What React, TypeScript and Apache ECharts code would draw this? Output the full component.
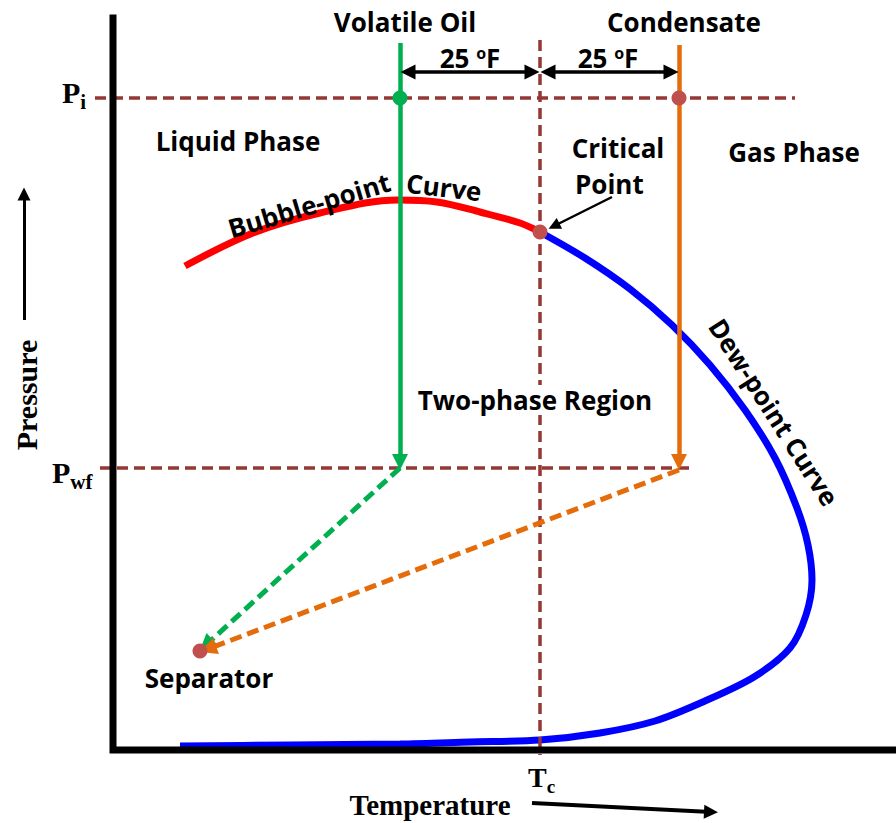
import React, { useEffect, useRef } from "react";
import * as echarts from "echarts";

// Abstract units: temperature (x) and pressure (y), origin at the axes corner.
const T_MIN = -113, T_MAX = 783;
const P_MIN = -73, P_MAX = 750;

// Phase envelope
const bubbleT = [72, 140, 207, 285, 324, 367, 407, 427];
const bubbleP = [484, 517, 537, 550, 548, 538, 527, 518];
const dewT = [427, 472, 517, 559, 597, 632, 662, 684, 695, 699, 693, 677, 641, 592, 542, 487, 427, 357, 287, 177, 67];
const dewP = [518, 492, 461, 425, 385, 340, 292, 242, 205, 170, 135, 102, 73, 49, 29, 17, 10, 8, 6, 5, 4];

// Key states
const Tc = 427;
const Pc = 518;
const T_volatile = 287;
const T_condensate = 566;
const P_i = 652;
const P_wf = 282;
const sepT = 87;
const sepP = 99;

const zip = (a: number[], b: number[]) => a.map((v, i) => [v, b[i]]);

const SANS = '"Open Sans", "Noto Sans", sans-serif';
const SERIF = '"Liberation Serif", "DejaVu Serif", serif';
const BROWN = "#953735";
const GREEN = "#00b050";
const ORANGE = "#e46c0a";
const DOT = "#c0504d";

export default function App() {
  const ref = useRef<HTMLDivElement>(null);
  useEffect(() => {
    document.body.style.margin = "0";
    const chart = echarts.init(ref.current!, null, { renderer: "svg" });
    const lineBase = { type: "line", symbol: "none", silent: true, clip: false } as any;
    const arrow = (coords: number[][], color: string, width: number, dashed = false, both = false, size = 14) => ({
      type: "lines",
      coordinateSystem: "cartesian2d",
      silent: true,
      symbol: both ? ["triangle", "triangle"] : ["none", "triangle"],
      symbolSize: size,
      lineStyle: { color, width, opacity: 1, type: dashed ? [12, 6] : "solid" },
      itemStyle: { color },
      data: [{ coords }],
    });
    const t = (text: string, x: number, y: number, extra: any = {}) => ({
      type: "text",
      x,
      y,
      rotation: extra.rotation || 0,
      z: 100,
      style: {
        text,
        fontFamily: SANS,
        fontWeight: "bold",
        fontSize: 26,
        fill: "#000",
        align: "center",
        verticalAlign: "middle",
        ...(extra.style || {}),
      },
    });
    const sup = { o: { fontSize: 16, fontFamily: SANS, fontWeight: "bold", verticalAlign: "top" } };
    const serifRich = (big: number, small: number) => ({
      a: { fontFamily: SERIF, fontWeight: "bold", fontSize: big, lineHeight: big + 10 },
      b: { fontFamily: SERIF, fontWeight: "bold", fontSize: small, verticalAlign: "bottom" },
    });
    const dash = { color: BROWN, width: 3.5, type: [11, 6] };
    const option: any = {
      animation: false,
      grid: { left: 0, right: 0, top: 0, bottom: 0 },
      xAxis: { type: "value", min: T_MIN, max: T_MAX, show: false },
      yAxis: { type: "value", min: P_MIN, max: P_MAX, show: false },
      series: [
        // axes
        { ...lineBase, data: [[0, 732], [0, 0], [783, 0]], lineStyle: { color: "#000", width: 7, join: "miter", cap: "square" }, z: 5 },
        // bubble-point curve
        { ...lineBase, data: zip(bubbleT, bubbleP), smooth: 0.35, lineStyle: { color: "#ff0000", width: 7 }, z: 3 },
        // dew-point curve
        { ...lineBase, data: zip(dewT, dewP), smooth: 0.3, lineStyle: { color: "#0000ff", width: 7 }, z: 3 },
        // reference dashed lines
        { ...lineBase, data: [[-18, P_i], [682, P_i]], lineStyle: dash, z: 4 },
        { ...lineBase, data: [[-13, P_wf], [582, P_wf]], lineStyle: dash, z: 4 },
        { ...lineBase, data: [[Tc, 710], [Tc, -5]], lineStyle: dash, z: 4 },
        // depletion paths
        { ...arrow([[T_volatile, 707], [T_volatile, P_wf + 6]], GREEN, 4.5, false, false, 16), z: 6 },
        { ...arrow([[T_condensate, 705], [T_condensate, P_wf + 6]], ORANGE, 4.5, false, false, 16), z: 6 },
        { ...arrow([[T_volatile, P_wf], [sepT + 6, sepP + 6]], GREEN, 5, true, false, 17), z: 6 },
        { ...arrow([[T_condensate, P_wf - 2], [sepT + 8, sepP + 2]], ORANGE, 5, true, false, 17), z: 6 },
        // 25 F spans
        { ...arrow([[T_volatile + 8, 678], [Tc - 8, 678]], "#000", 3.5, false, true, 15), z: 6 },
        { ...arrow([[Tc + 8, 678], [T_condensate - 8, 678]], "#000", 3.5, false, true, 15), z: 6 },
        // critical point pointer
        { ...arrow([[499, 553], [441, 524]], "#000", 2.5, false, false, 12), z: 6 },
        // axis title arrows
        { ...arrow([[-89, 430], [-89, 556]], "#000", 3, false, false, 13), z: 6 },
        { ...arrow([[419, -53], [598, -62]], "#000", 4, false, false, 14), z: 6 },
        // dots
        {
          type: "scatter", silent: true, symbolSize: 15, z: 8,
          itemStyle: { opacity: 1 },
          data: [
            { value: [T_volatile, P_i], itemStyle: { color: GREEN, opacity: 1 } },
            { value: [T_condensate, P_i], itemStyle: { color: DOT, opacity: 1 } },
            { value: [Tc, Pc], itemStyle: { color: DOT, opacity: 1 } },
            { value: [sepT, sepP], itemStyle: { color: DOT, opacity: 1 } },
          ],
        },
      ],
      graphic: [
        t("Volatile Oil", 405, 22),
        t("Condensate", 684, 22),
        t("25 {o|o}F", 470, 58, { style: { rich: sup } }),
        t("25 {o|o}F", 608, 58, { style: { rich: sup } }),
        t("Liquid Phase", 238, 141),
        t("Critical", 618, 148),
        t("Point", 575, 184, { style: { align: "left" } }),
        t("Gas Phase", 794, 152),
        t("Bubble-point", 309, 205, { rotation: 0.29 }),
        t("Curve", 444, 187, { rotation: -0.12 }),
        t("Two-phase Region", 535, 400, { style: { backgroundColor: "#fff", padding: [2, 2] } }),
        t("Dew-point Curve", 774, 412, { rotation: -1.0 }),
        t("Separator", 209, 678),
        t("{a|P}{b|i}", 62, 92, { style: { align: "left", fontFamily: SERIF, rich: serifRich(30, 21) } }),
        t("{a|P}{b|wf}", 52, 472, { style: { align: "left", fontFamily: SERIF, rich: serifRich(30, 21) } }),
        t("{a|T}{b|c}", 528, 777, { style: { align: "left", fontFamily: SERIF, rich: serifRich(28, 19) } }),
        t("Pressure", 26, 395, { rotation: Math.PI / 2, style: { fontFamily: SERIF, fontSize: 30 } }),
        t("Temperature", 430, 805, { style: { fontFamily: SERIF, fontSize: 29 } }),
      ],
    };
    chart.setOption(option);
    return () => chart.dispose();
  }, []);
  return <div ref={ref} style={{ position: "fixed", left: 0, top: 0, width: 896, height: 823, background: "#fff" }} />;
}
